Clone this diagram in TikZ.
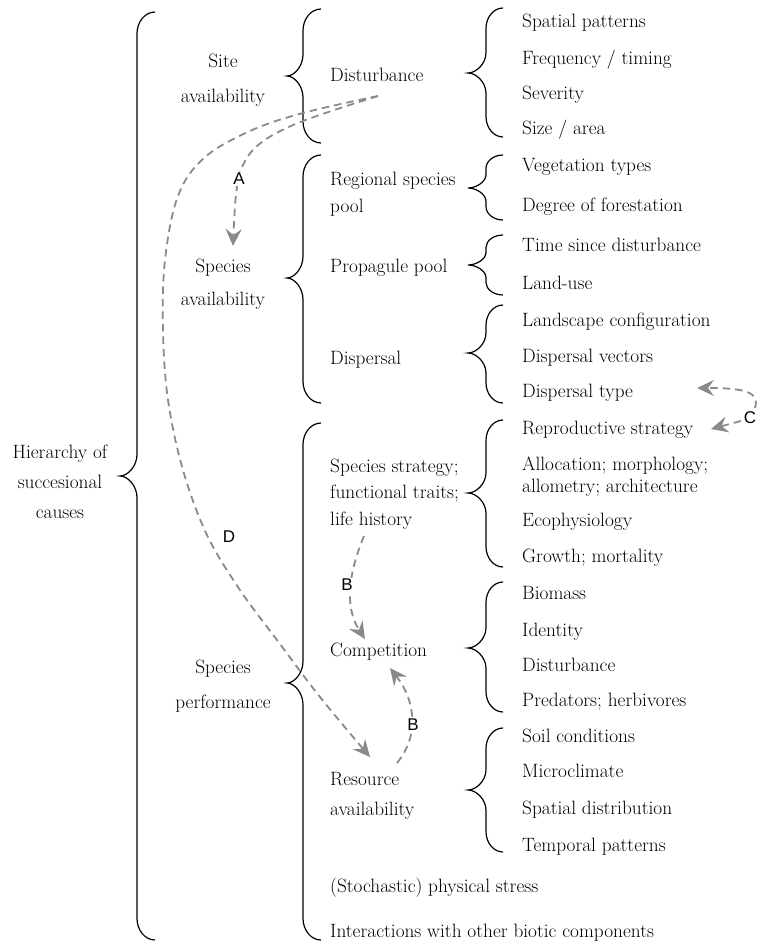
\documentclass[tikz,border=0pt]{standalone}
\usepackage{fontspec}
\newfontfamily\labfont{Liberation Sans}
\usetikzlibrary{arrows.meta}
\definecolor{arrgray}{RGB}{138,138,138}
\newcommand\drawbrace[6]{%
  \pgfmathsetmacro\brcurl{min(1.2*(#1-#2),0.42*(#5-#4),0.42*(#6-#5))}%
  \draw[brc] (#1,#4) .. controls ({#2+0.45*(#1-#2)},#4) and (#2,{#4+0.45*\brcurl}) .. (#2,{#4+\brcurl})
    -- (#2,{#5-\brcurl}) .. controls (#2,{#5-0.45*\brcurl}) and ({#3+0.45*(#2-#3)},#5) .. (#3,#5)
    .. controls ({#3+0.45*(#2-#3)},#5) and (#2,{#5+0.45*\brcurl}) .. (#2,{#5+\brcurl})
    -- (#2,{#6-\brcurl}) .. controls (#2,{#6-0.45*\brcurl}) and ({#2+0.45*(#1-#2)},#6) .. (#1,#6);}
\newcommand\txtfont[1]{\fontsize{19.3}{#1}\selectfont\addfontfeatures{FakeBold=0.8}}
\begin{document}
\begin{tikzpicture}[x=1pt,y=-1pt,
  txt/.style={font=\txtfont{22}, inner sep=0pt},
  one/.style={txt, anchor=west, text height=13pt, text depth=3.7pt},
  multi/.style={txt, anchor=west, align=left, font=\txtfont{#1}},
  cen/.style={txt, anchor=center, align=center, font=\txtfont{#1}},
  brc/.style={draw=black, line width=1.2pt},
  flow/.style={draw=arrgray, line width=1.8pt, dash pattern=on 7.5pt off 5pt,
    -{Stealth[length=17pt,width=16pt,inset=6pt]}},
  lab/.style={font=\labfont\fontsize{17}{20}\selectfont, fill=white, inner sep=1.5pt, text=black}
]
\useasboundingbox (0,0) rectangle (758,942);

% braces
\drawbrace{155}{137}{120}{12}{476}{940}
\drawbrace{321}{303}{287}{9}{76}{143}
\drawbrace{321}{303}{287}{155}{278}{403}
\drawbrace{321}{303}{287}{423}{683}{940}
\drawbrace{503}{486}{468}{8}{73}{137}
\drawbrace{503}{486}{468}{155}{188}{220}
\drawbrace{503}{486}{468}{235}{265}{295}
\drawbrace{503}{486}{468}{305}{353}{403}
\drawbrace{503}{486}{468}{420}{493}{567}
\drawbrace{503}{486}{468}{582}{648}{712}
\drawbrace{503}{486}{468}{728}{790}{852}

% level 1 and 2
\node[cen=30] (hier) at (60,482) {Hierarchy of\\succesional\\causes};
\node[cen=35] (site) at (223,80) {Site\\availability};
\node[cen=33] (spav) at (223,284) {Species\\availability};
\node[cen=35] (sperf) at (223,686) {Species\\performance};

% level 3
\node[one] (dist) at (330,77) {Disturbance};
\node[multi=27] (regpool) at (330,194) {Regional species\\pool};
\node[one] (propag) at (330,268) {Propagule pool};
\node[one] (dispersal) at (330,360) {Dispersal};
\node[multi=26.5] (strategy) at (330,494) {Species strategy;\\functional traits;\\life history};
\node[one] (compet) at (330,652) {Competition};
\node[multi=30] (resource) at (330,795.5) {Resource\\availability};
\node[one] (stress) at (330,888) {(Stochastic) physical stress};
\node[one] (interact) at (330,933) {Interactions with other biotic components};

% level 4
\node[one] (i1) at (522,23) {Spatial patterns};
\node[one] (i2) at (522,60) {Frequency / timing};
\node[one] (i3) at (522,95) {Severity};
\node[one] (i4) at (522,130) {Size / area};
\node[one] (i5) at (522,167) {Vegetation types};
\node[one] (i6) at (522,207) {Degree of forestation};
\node[one] (i7) at (522,247) {Time since disturbance};
\node[one] (i8) at (522,285) {Land-use};
\node[one] (i9) at (522,322) {Landscape configuration};
\node[one] (i10) at (522,358) {Dispersal vectors};
\node[one] (i11) at (522,393) {Dispersal type};
\node[one] (i12) at (522,430) {Reproductive strategy};
\node[multi=22] (i13) at (522,476.5) {Allocation; morphology;\\allometry; architecture};
\node[one] (i14) at (522,522) {Ecophysiology};
\node[one] (i15) at (522,558) {Growth; mortality};
\node[one] (i16) at (522,595) {Biomass};
\node[one] (i17) at (522,632) {Identity};
\node[one] (i18) at (522,667) {Disturbance};
\node[one] (i19) at (522,702) {Predators; herbivores};
\node[one] (i20) at (522,738) {Soil conditions};
\node[one] (i21) at (522,773) {Microclimate};
\node[one] (i22) at (522,810) {Spatial distribution};
\node[one] (i23) at (522,847) {Temporal patterns};

% arrow end points
\coordinate (dsrc) at (378,96);
\coordinate (aend) at (233,246);
\coordinate (dend) at (370,757);
\coordinate (b1src) at (364,536);
\coordinate (b1end) at (365,639);
\coordinate (b2src) at (397,763);
\coordinate (b2end) at (390,668);
\coordinate (c1src) at (755,408);
\coordinate (c1end) at (697,388);
\coordinate (c2src) at (741,421);
\coordinate (c2end) at (711,429);

% dashed arrows
\draw[flow] plot[smooth, tension=0.6] coordinates {(dsrc) (303,121) (262,142) (243,165) (236,195) (aend)};
\draw[flow] plot[smooth, tension=0.6] coordinates {(dsrc) (303,113) (250,131) (204,158) (178,196) (165,260) (163,330) (168,400) (183,470) (207,535) (240,590) (277,640) (320,697) (dend)};
\draw[flow] (b1src) .. controls (350,570) and (343,605) .. (b1end);
\draw[flow] (b2src) .. controls (420,735) and (415,700) .. (b2end);
\draw[flow] (c1src) .. controls (760,392) and (745,388) .. (c1end);
\draw[flow] (c2src) -- (c2end);

% arrow labels
\node[lab] (labA) at (239,179) {A};
\node[lab, fill=none] (labD) at (229,537) {D};
\node[lab] (labB1) at (347,585) {B};
\node[lab] (labB2) at (413,725) {B};
\node[lab, fill=none] (labC) at (750,418) {C};
\end{tikzpicture}
\end{document}
